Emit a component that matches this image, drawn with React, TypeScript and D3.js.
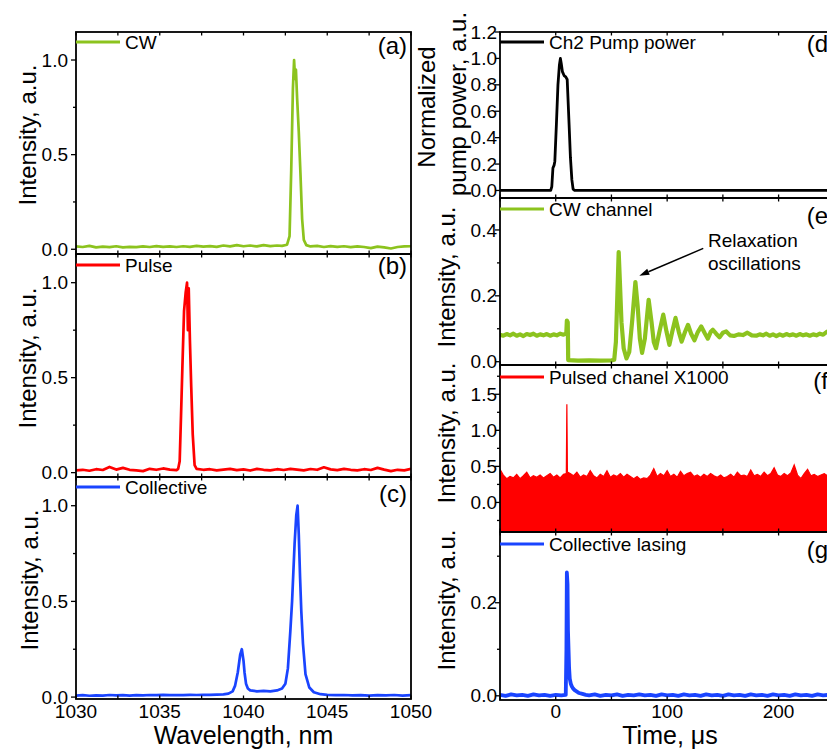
import React from 'react';
import * as d3 from 'd3';

const FONT = '"Liberation Sans", Arial, Helvetica, sans-serif';
const GREEN = '#8cc31e';
const RED = '#ff0000';
const BLUE = '#1a44ff';

// (a) CW channel spectrum
const cwWavelength = [
  1030, 1030.4, 1030.8, 1031.2, 1031.6, 1032, 1032.4, 1032.8, 1033.2, 1033.6,
  1034, 1034.4, 1034.8, 1035.2, 1035.6, 1036, 1036.4, 1036.8, 1037.2, 1037.6,
  1038, 1038.4, 1038.8, 1039.2, 1039.6, 1040, 1040.4, 1040.8, 1041.2, 1041.6, 1042,
  1042.3, 1042.6, 1042.75, 1042.85, 1042.95, 1043.02, 1043.08, 1043.13, 1043.2, 1043.3, 1043.4, 1043.5, 1043.6, 1043.75,
  1044, 1044.4, 1044.8, 1045.2, 1045.6, 1046, 1046.4, 1046.8, 1047.2, 1047.6,
  1048, 1048.4, 1048.8, 1049.2, 1049.6, 1050,
];
const cwIntensity = [
  0.015, 0.012, 0.018, 0.010, 0.014, 0.011, 0.016, 0.010, 0.013, 0.011,
  0.015, 0.012, 0.017, 0.013, 0.015, 0.012, 0.016, 0.013, 0.018, 0.014,
  0.017, 0.013, 0.020, 0.015, 0.022, 0.016, 0.020, 0.015, 0.022, 0.017, 0.020,
  0.018, 0.024, 0.07, 0.42, 0.85, 1.0, 0.9, 0.95, 0.8, 0.62, 0.4, 0.16, 0.05, 0.022,
  0.015, 0.018, 0.012, 0.017, 0.013, 0.016, 0.011, 0.015, 0.012, 0.006,
  0.014, 0.010, 0.004, 0.012, 0.015, 0.016,
];

// (b) pulsed channel spectrum
const pulseWavelength = [
  1030, 1030.4, 1030.8, 1031.2, 1031.6, 1032, 1032.4, 1032.8, 1033.2, 1033.6,
  1034, 1034.4, 1034.8, 1035.2, 1035.6, 1036,
  1036.1, 1036.19, 1036.27, 1036.35, 1036.45, 1036.55, 1036.63, 1036.68, 1036.73, 1036.8, 1036.88, 1036.97, 1037.08, 1037.2,
  1037.6, 1038, 1038.4, 1038.8, 1039.2, 1039.6, 1040, 1040.4, 1040.8, 1041.2,
  1041.6, 1042, 1042.4, 1042.8, 1043.2, 1043.6, 1044, 1044.4, 1044.8, 1045.2,
  1045.6, 1046, 1046.4, 1046.8, 1047.2, 1047.6, 1048, 1048.4, 1048.8, 1049.2,
  1049.6, 1050,
];
const pulseIntensity = [
  0.012, 0.015, 0.010, 0.018, 0.014, 0.030, 0.016, 0.025, 0.015, 0.012,
  0.008, 0.020, 0.015, 0.022, 0.016, 0.013,
  0.02, 0.06, 0.3, 0.55, 0.85, 0.95, 1.0, 0.75, 0.97, 0.7, 0.45, 0.2, 0.04, 0.02,
  0.015, 0.018, 0.012, 0.016, 0.020, 0.013, 0.017, 0.011, 0.020, 0.015,
  0.012, 0.018, 0.014, 0.020, 0.016, 0.012, 0.019, 0.015, 0.028, 0.017,
  0.013, 0.020, 0.015, 0.012, 0.018, 0.014, 0.025, 0.016, 0.008, 0.015,
  0.012, 0.020,
];

// (c) collective lasing spectrum
const collWavelength = [
  1030, 1030.4, 1030.8, 1031.2, 1031.6, 1032, 1032.4, 1032.8, 1033.2, 1033.6,
  1034, 1034.4, 1034.8, 1035.2, 1035.6, 1036, 1036.4, 1036.8, 1037.2, 1037.6,
  1038, 1038.4, 1038.8,
  1039.1, 1039.35, 1039.5, 1039.66, 1039.8, 1039.9, 1040.0, 1040.06, 1040.15, 1040.26,
  1040.4, 1040.8, 1041.2, 1041.6, 1042.0, 1042.3, 1042.5, 1042.65, 1042.8, 1042.9,
  1043.05, 1043.15, 1043.23, 1043.3, 1043.38, 1043.45, 1043.55, 1043.7, 1043.93, 1044.2,
  1044.6,
  1045, 1045.5, 1046, 1046.5, 1047, 1047.5, 1048, 1048.5, 1049, 1049.5, 1050,
];
const collIntensity = [
  0.008, 0.010, 0.007, 0.009, 0.008, 0.011, 0.009, 0.010, 0.008, 0.010,
  0.009, 0.011, 0.010, 0.012, 0.010, 0.011, 0.010, 0.012, 0.011, 0.012,
  0.012, 0.013, 0.014,
  0.018, 0.03, 0.06, 0.13, 0.22, 0.25, 0.19, 0.13, 0.07, 0.045,
  0.035, 0.03, 0.032, 0.03, 0.035, 0.045, 0.07, 0.15, 0.35, 0.5,
  0.8, 0.95, 1.0, 0.85, 0.62, 0.45, 0.28, 0.12, 0.05, 0.025,
  0.015,
  0.012, 0.010, 0.011, 0.009, 0.010, 0.008, 0.010, 0.009, 0.011, 0.008, 0.010,
];

// (d) pump pulse
const pumpTime = [-50, -4.5, -3.5, -2.5, -1.5, -0.8, 0, 0.6, 2, 3.3, 4.2, 5, 6, 7.5, 9, 10.3, 11, 12, 13.2, 14.5, 15.6, 17, 256];
const pumpPower = [0, 0, 0.03, 0.17, 0.19, 0.22, 0.38, 0.5, 0.8, 0.95, 1.0, 0.96, 0.9, 0.87, 0.86, 0.84, 0.7, 0.5, 0.25, 0.08, 0.01, 0, 0];

// (e) CW channel trace
const cwChTime = [
  -50, -47, -44, -41, -38, -35, -32, -29, -26, -23,
  -20, -17, -14, -11, -8, -5, -2, 1, 4, 7,
  9.5, 10, 10.8, 11.2, 20, 30, 40, 50, 52.5, 54,
  55.3, 56.5, 57.5, 59, 61, 63.5, 66, 68.5, 71.5, 73.5,
  75.5, 77.5, 80, 83.4, 86, 88, 90, 93, 96.5, 99.5,
  102, 104.5, 107.5, 110.5, 113, 116, 118.7, 121.5, 124.5, 127.5,
  130.6, 134, 136.5, 139, 141, 144, 147, 150, 153, 156.5,
  160, 164, 168, 172, 176, 180, 183, 186, 189, 192,
  195, 198, 201, 204, 207, 210, 213, 216, 219, 222,
  225, 228, 231, 234, 237, 240, 243, 246, 250,
];
const cwChIntensity = [
  0.082, 0.079, 0.084, 0.080, 0.085, 0.079, 0.083, 0.078, 0.084, 0.081,
  0.085, 0.079, 0.083, 0.080, 0.084, 0.079, 0.083, 0.080, 0.085, 0.082,
  0.086, 0.125, 0.120, 0.005, 0.003, 0.004, 0.003, 0.004, 0.006, 0.06,
  0.2, 0.333, 0.25, 0.12, 0.04, 0.01, 0.03, 0.12, 0.242, 0.17,
  0.07, 0.027, 0.07, 0.188, 0.12, 0.06, 0.041, 0.09, 0.143, 0.09,
  0.051, 0.09, 0.133, 0.09, 0.061, 0.09, 0.112, 0.085, 0.065, 0.09,
  0.107, 0.085, 0.07, 0.09, 0.097, 0.085, 0.074, 0.088, 0.092, 0.08,
  0.078, 0.083, 0.081, 0.088, 0.08, 0.079, 0.083, 0.08, 0.085, 0.079,
  0.083, 0.078, 0.083, 0.079, 0.084, 0.08, 0.083, 0.079, 0.084, 0.08,
  0.083, 0.079, 0.083, 0.08, 0.085, 0.082, 0.09, 0.094, 0.09,
];

// (f) pulsed channel x1000, upper edge of the noise band
const pulsedTime = [
  -50, -47, -44, -41, -38, -35, -32, -29, -26, -23,
  -20, -17, -14, -11, -8, -5, -2, 1, 4, 7,
  9.5, 10, 10.5,
  13, 16, 19, 22, 25, 28, 31, 34, 37, 40,
  43, 46, 49, 52, 55, 58, 61, 64, 67, 70,
  73, 76, 79, 82, 85, 88, 91, 94, 97, 100,
  103, 106, 109, 112, 115, 118, 121, 124, 127, 130,
  133, 136, 139, 142, 145, 148, 151, 154, 157, 160,
  163, 166, 169, 172, 175, 178, 181, 184, 187, 190,
  193, 196, 199, 202, 205, 208, 211, 214, 217, 220,
  223, 226, 229, 232, 235, 238, 241, 244, 247, 250,
];
const pulsedIntensity = [
  0.46, 0.38, 0.33, 0.36, 0.34, 0.39, 0.33, 0.37, 0.42, 0.34,
  0.37, 0.35, 0.38, 0.34, 0.37, 0.40, 0.35, 0.38, 0.34, 0.39,
  0.40, 1.36, 0.42,
  0.40, 0.37, 0.42, 0.35, 0.38, 0.36, 0.44, 0.37, 0.34, 0.39,
  0.36, 0.44, 0.35, 0.38, 0.36, 0.40, 0.35, 0.39, 0.36, 0.33,
  0.36, 0.32, 0.34, 0.33, 0.38, 0.47, 0.36, 0.40, 0.37, 0.44,
  0.36, 0.39, 0.35, 0.43, 0.37, 0.40, 0.42, 0.36, 0.38, 0.35,
  0.39, 0.36, 0.40, 0.37, 0.35, 0.38, 0.34, 0.36, 0.39, 0.35,
  0.42, 0.37, 0.38, 0.36, 0.45, 0.37, 0.39, 0.36, 0.42, 0.37,
  0.40, 0.48, 0.38, 0.36, 0.40, 0.37, 0.41, 0.52, 0.38, 0.33,
  0.40, 0.46, 0.37, 0.39, 0.36, 0.38, 0.40, 0.37, 0.39, 0.38,
];

// (g) collective lasing trace
const lasingTime = [
  -50, -45, -40, -35, -30, -25, -20, -15, -10, -5, 0, 5, 9,
  9.6, 10, 10.6, 11, 11.5, 12, 12.6, 13.5, 14.5, 15.5, 17, 19, 21, 24, 27,
  30, 35, 40, 45, 50, 55, 60, 65, 70, 75,
  80, 85, 90, 95, 100, 105, 110, 115, 120, 125,
  130, 135, 140, 145, 150, 155, 160, 165, 170, 175,
  180, 185, 190, 195, 200, 205, 210, 215, 220, 225,
  230, 235, 240, 245, 250,
];
const lasingIntensity = [
  0.002, 0.0, 0.003, 0.001, 0.002, 0.0, 0.003, 0.001, 0.002, 0.0, 0.002, 0.001, 0.002,
  0.1, 0.265, 0.24, 0.14, 0.1, 0.06, 0.037, 0.026, 0.02, 0.016, 0.012, 0.009, 0.006, 0.004, 0.002,
  0.001, 0.003, 0.0, 0.002, 0.001, 0.003, 0.0, 0.002, 0.001, 0.003,
  0.001, 0.002, 0.0, 0.003, 0.001, 0.002, 0.0, 0.003, 0.001, 0.002,
  0.0, 0.003, 0.001, 0.002, 0.0, 0.003, 0.001, 0.002, 0.0, 0.003,
  0.001, 0.002, 0.0, 0.003, 0.001, 0.002, 0.0, 0.003, 0.001, 0.002,
  0.0, 0.003, 0.001, 0.002, 0.0,
];

const wavelengthTicks = [1030, 1035, 1040, 1045, 1050];
const wavelengthMinor = [1032.5, 1037.5, 1042.5, 1047.5];
const timeTicks = [0, 100, 200];
const timeMinor = [-50, 50, 150, 250];

// layout
const LX0 = 76, LX1 = 411;
const RX0 = 500, RX1 = 841;

const xWl = d3.scaleLinear().domain([1030, 1050]).range([LX0, LX1]);
const xT = d3.scaleLinear().domain([-50, 256]).range([RX0, RX1]);

const yA = d3.scaleLinear().domain([-0.025, 1.148]).range([254, 32]);
const yB = d3.scaleLinear().domain([-0.023, 1.151]).range([477, 254]);
const yC = d3.scaleLinear().domain([-0.01, 1.15]).range([699, 477]);
const yD = d3.scaleLinear().domain([-0.057, 1.2]).range([198, 32]);
const yE = d3.scaleLinear().domain([-0.01, 0.497]).range([365, 198]);
const yF = d3.scaleLinear().domain([-0.41, 1.906]).range([532, 365]);
const yG = d3.scaleLinear().domain([-0.009, 0.352]).range([700, 532]);

const fmt = d3.format('.1f');

type Scale = d3.ScaleLinear<number, number>;

function linePath(xs: number[], ys: number[], x: Scale, y: Scale) {
  return d3.line<number>().x((_, i) => x(xs[i])).y((d) => y(d))(ys) || '';
}

type PanelProps = {
  id: string;
  x: Scale;
  y: Scale;
  xMajor: number[];
  xMinor: number[];
  yMajor: number[];
  yMinor: number[];
  labelGap: number;
  tickBaseline?: number;
  legend: { text: string; color: string; y: number };
  tag: { text: string; x: number; y: number };
  children: React.ReactNode;
};

function Panel({ id, x, y, xMajor, xMinor, yMajor, yMinor, labelGap, tickBaseline, legend, tag, children }: PanelProps) {
  const [x0, x1] = x.range();
  const [yb, yt] = y.range();
  const tickStyle = { stroke: '#000', strokeWidth: 1.3 };
  return (
    <g>
      <clipPath id={id}>
        <rect x={x0} y={yt} width={x1 - x0} height={yb - yt} />
      </clipPath>
      <g clipPath={`url(#${id})`}>{children}</g>
      <rect x={x0} y={yt} width={x1 - x0} height={yb - yt} fill="none" stroke="#000" strokeWidth={1.8} />
      {xMajor.concat(xMinor).map((v) => (
        <g key={'x' + v}>
          <line x1={x(v)} x2={x(v)} y1={yb} y2={yb - 3.5} style={tickStyle} />
          <line x1={x(v)} x2={x(v)} y1={yt} y2={yt + 3.5} style={tickStyle} />
        </g>
      ))}
      {yMajor.map((v) => (
        <g key={'y' + v}>
          <line x1={x0} x2={x0 - 5} y1={y(v)} y2={y(v)} style={tickStyle} />
          <text x={x0 - labelGap} y={y(v)} dy="0.35em" textAnchor="end" fontSize={19}>
            {fmt(v)}
          </text>
        </g>
      ))}
      {yMinor.map((v) => (
        <line key={'ym' + v} x1={x0} x2={x0 - 3} y1={y(v)} y2={y(v)} style={tickStyle} />
      ))}
      {tickBaseline !== undefined &&
        xMajor.map((v) => (
          <text key={'xl' + v} x={x(v)} y={tickBaseline} textAnchor="middle" fontSize={19}>
            {v}
          </text>
        ))}
      <line x1={x0} x2={x0 + 44} y1={legend.y} y2={legend.y} stroke={legend.color} strokeWidth={2.8} />
      <text x={x0 + 49} y={legend.y} dy="0.35em" fontSize={19}>
        {legend.text}
      </text>
      <text x={tag.x} y={tag.y} textAnchor="end" fontSize={24}>
        {tag.text}
      </text>
    </g>
  );
}

const App = () => {
  const spectrumTicks = [0, 0.5, 1.0];
  const spectrumMinor = [0.25, 0.75];

  const pulsedArea =
    d3
      .area<number>()
      .x((_, i) => xT(pulsedTime[i]))
      .y0(yF(-0.41))
      .y1((d) => yF(d))(pulsedIntensity) || '';

  // arrow for the relaxation oscillation note
  const arrowTip: [number, number] = [xT(75), yE(0.261)];
  const arrowStart: [number, number] = [xT(132.4), yE(0.344)];
  const dx = arrowTip[0] - arrowStart[0];
  const dy = arrowTip[1] - arrowStart[1];
  const len = Math.hypot(dx, dy);
  const ux = dx / len, uy = dy / len;
  const bx = arrowTip[0] - ux * 10, by = arrowTip[1] - uy * 10;
  const head = `${arrowTip[0]},${arrowTip[1]} ${bx - uy * 3.2},${by + ux * 3.2} ${bx + uy * 3.2},${by - ux * 3.2}`;

  return (
    <svg
      width={827}
      height={749}
      style={{ position: 'fixed', left: 0, top: 0, background: '#fff' }}
      fontFamily={FONT}
    >
      <rect x={0} y={0} width={827} height={749} fill="#fff" />

      {/* left column: spectra */}
      <Panel id="pa" x={xWl} y={yA} xMajor={wavelengthTicks} xMinor={wavelengthMinor}
        yMajor={spectrumTicks} yMinor={spectrumMinor} labelGap={8}
        legend={{ text: 'CW', color: GREEN, y: 42 }} tag={{ text: '(a)', x: 407, y: 54 }}>
        <path d={linePath(cwWavelength, cwIntensity, xWl, yA)} fill="none" stroke={GREEN} strokeWidth={2.7} strokeLinejoin="round" />
      </Panel>
      <Panel id="pb" x={xWl} y={yB} xMajor={wavelengthTicks} xMinor={wavelengthMinor}
        yMajor={spectrumTicks} yMinor={spectrumMinor} labelGap={8}
        legend={{ text: 'Pulse', color: RED, y: 265 }} tag={{ text: '(b)', x: 407, y: 274 }}>
        <path d={linePath(pulseWavelength, pulseIntensity, xWl, yB)} fill="none" stroke={RED} strokeWidth={2.7} strokeLinejoin="round" />
      </Panel>
      <Panel id="pc" x={xWl} y={yC} xMajor={wavelengthTicks} xMinor={wavelengthMinor}
        yMajor={spectrumTicks} yMinor={spectrumMinor} labelGap={8} tickBaseline={718}
        legend={{ text: 'Collective', color: BLUE, y: 487 }} tag={{ text: '(c)', x: 407, y: 502 }}>
        <path d={linePath(collWavelength, collIntensity, xWl, yC)} fill="none" stroke={BLUE} strokeWidth={2.7} strokeLinejoin="round" />
      </Panel>

      {/* right column: time traces */}
      <Panel id="pd" x={xT} y={yD} xMajor={timeTicks} xMinor={timeMinor}
        yMajor={[0, 0.2, 0.4, 0.6, 0.8, 1.0, 1.2]} yMinor={[]} labelGap={3}
        legend={{ text: 'Ch2 Pump power', color: '#000', y: 42 }} tag={{ text: '(d)', x: 836, y: 52 }}>
        <path d={linePath(pumpTime, pumpPower, xT, yD)} fill="none" stroke="#000" strokeWidth={2.8} strokeLinejoin="round" />
      </Panel>
      <Panel id="pe" x={xT} y={yE} xMajor={timeTicks} xMinor={timeMinor}
        yMajor={[0, 0.2, 0.4]} yMinor={[0.1, 0.3]} labelGap={3}
        legend={{ text: 'CW channel', color: GREEN, y: 209 }} tag={{ text: '(e)', x: 836, y: 224 }}>
        <path d={linePath(cwChTime, cwChIntensity, xT, yE)} fill="none" stroke={GREEN} strokeWidth={4.2} strokeLinejoin="round" />
      </Panel>
      <Panel id="pf" x={xT} y={yF} xMajor={timeTicks} xMinor={timeMinor}
        yMajor={[0, 0.5, 1.0, 1.5]} yMinor={[-0.25, 0.25, 0.75, 1.25, 1.75]} labelGap={3}
        legend={{ text: 'Pulsed chanel X1000', color: RED, y: 377 }} tag={{ text: '(f)', x: 836, y: 389 }}>
        <path d={pulsedArea} fill={RED} stroke={RED} strokeWidth={1.2} strokeLinejoin="miter" />
      </Panel>
      <Panel id="pg" x={xT} y={yG} xMajor={timeTicks} xMinor={timeMinor}
        yMajor={[0, 0.2]} yMinor={[0.1, 0.3]} labelGap={3} tickBaseline={718}
        legend={{ text: 'Collective lasing', color: BLUE, y: 544 }} tag={{ text: '(g)', x: 836, y: 558 }}>
        <path d={linePath(lasingTime, lasingIntensity, xT, yG)} fill="none" stroke={BLUE} strokeWidth={3.8} strokeLinejoin="round" />
      </Panel>

      {/* annotation */}
      <line x1={arrowStart[0]} y1={arrowStart[1]} x2={bx} y2={by} stroke="#000" strokeWidth={1.5} />
      <polygon points={head} fill="#000" />
      <text x={xT(136.6)} y={yE(0.349)} fontSize={19}>Relaxation</text>
      <text x={xT(136.6)} y={yE(0.278)} fontSize={19}>oscillations</text>

      {/* axis titles */}
      <text transform="translate(36,135) rotate(-90)" textAnchor="middle" fontSize={24}>Intensity, a.u.</text>
      <text transform="translate(36,358) rotate(-90)" textAnchor="middle" fontSize={24}>Intensity, a.u.</text>
      <text transform="translate(38,580) rotate(-90)" textAnchor="middle" fontSize={24}>Intensity, a.u.</text>
      <text x={243.5} y={744} textAnchor="middle" fontSize={25}>Wavelength, nm</text>

      <text transform="translate(435,107) rotate(-90)" textAnchor="middle" fontSize={24}>Normalized</text>
      <text transform="translate(466,104) rotate(-90)" textAnchor="middle" fontSize={24}>pump power, a.u.</text>
      <text transform="translate(455,277) rotate(-90)" textAnchor="middle" fontSize={24}>Intensity, a.u.</text>
      <text transform="translate(455,433) rotate(-90)" textAnchor="middle" fontSize={24}>Intensity, a.u.</text>
      <text transform="translate(455,600) rotate(-90)" textAnchor="middle" fontSize={24}>Intensity, a.u.</text>
      <text x={670} y={744} textAnchor="middle" fontSize={25}>Time, μs</text>
    </svg>
  );
};

export default App;
